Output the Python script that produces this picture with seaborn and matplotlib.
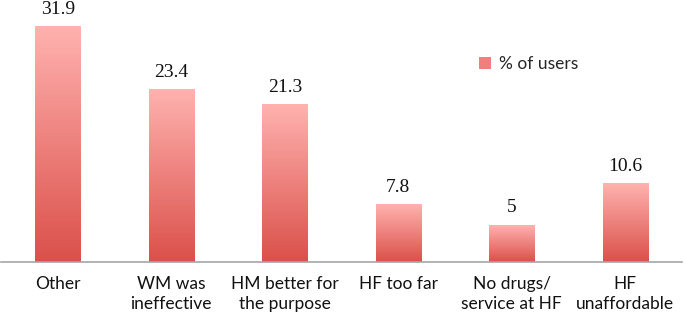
import numpy as np
import pandas as pd
import matplotlib
matplotlib.use('Agg')
import matplotlib.pyplot as plt
from matplotlib.colors import LinearSegmentedColormap
from matplotlib.patches import Patch
import seaborn as sns

# dados do grafico
reasons = ['Other', 'WM was\nineffective', 'HM better for\nthe purpose', 'HF too far',
           'No drugs/\nservice at HF', 'HF\nunaffordable']
pct_users = [31.9, 23.4, 21.3, 7.8, 5, 10.6]
value_labels = ['31.9', '23.4', '21.3', '7.8', '5', '10.6']

df = pd.DataFrame({'reason': reasons, 'pct': pct_users})

sns.set_style('white')
plt.rcParams['font.family'] = ['Lato', 'DejaVu Sans']

fig = plt.figure(figsize=(6.85, 3.13), dpi=100)
ax = fig.add_axes([1/685, 51/313, 681/685, 258/313])

sns.barplot(data=df, x='reason', y='pct', width=0.4, color='#F08080', ax=ax)

# gradiente vertical em cada barra (claro em cima, vermelho embaixo)
cmap = LinearSegmentedColormap.from_list('grad', ['#DB504A', '#FFB2AF'])
grad = np.linspace(0, 1, 256).reshape(-1, 1)
for i, p in enumerate(ax.patches):
    x0 = p.get_x()
    w = p.get_width()
    h = p.get_height()
    p.set_facecolor('none')
    p.set_edgecolor('none')
    ax.imshow(grad, extent=(x0, x0 + w, 0, h), origin='lower', aspect='auto',
              cmap=cmap, zorder=2)
    ax.text(x0 + w / 2, h + 1.75, value_labels[i], ha='center', va='baseline',
            fontsize=14, family='Liberation Serif', color='#111111', clip_on=False)

ax.set_xlim(-0.5, len(reasons) - 0.5)
ax.set_ylim(0, 35)
ax.set_xlabel('')
ax.set_ylabel('')
ax.set_yticks([])
ax.tick_params(axis='x', length=0, pad=10, labelsize=12.5, colors='#111111')
for lbl in ax.get_xticklabels():
    lbl.set_linespacing(1.3)
for s in ['top', 'left', 'right']:
    ax.spines[s].set_visible(False)
ax.spines['bottom'].set_color('#A6A6A6')
ax.spines['bottom'].set_linewidth(1.2)

leg = ax.legend(handles=[Patch(facecolor='#F08080', edgecolor='none', label='% of users')],
                loc='upper left', bbox_to_anchor=(462/681, 0.86), frameon=False,
                fontsize=12.5, handlelength=0.7, handleheight=0.7, handletextpad=0.5)

fig.savefig('out.png', dpi=100)
